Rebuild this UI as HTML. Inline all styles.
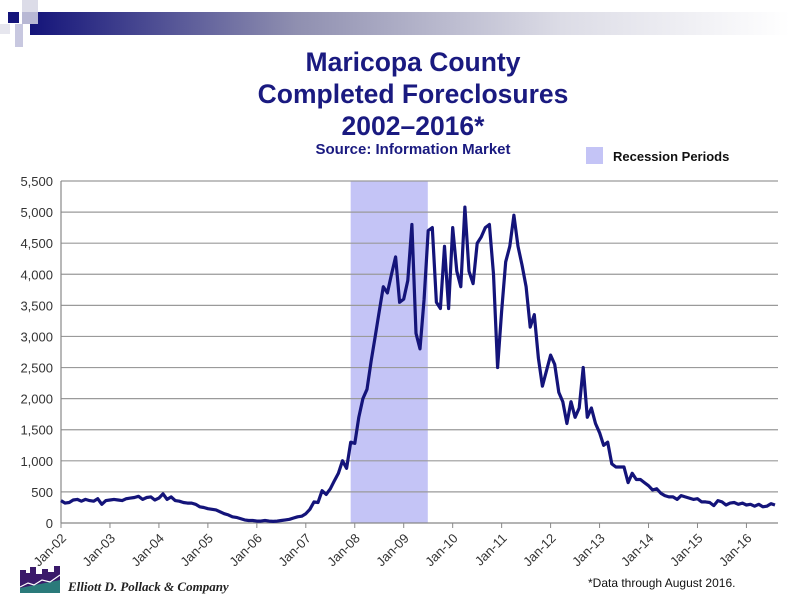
<!DOCTYPE html>
<html><head><meta charset="utf-8"><style>
body{margin:0;background:#fff;}
svg{display:block;font-family:"Liberation Sans",Arial,sans-serif;}
</style></head><body>
<svg width="800" height="600" viewBox="0 0 800 600">
<defs><linearGradient id="hg" x1="0" x2="1" y1="0" y2="0">
<stop offset="0" stop-color="#14147a"/><stop offset="0.35" stop-color="#8f8fb0"/><stop offset="0.7" stop-color="#dcdce6"/><stop offset="1" stop-color="#ffffff"/></linearGradient></defs>
<g>
<rect x="30" y="12" width="760" height="23" fill="url(#hg)"/>
<rect x="8" y="12" width="11" height="11" fill="#14147a"/>
<rect x="22" y="0" width="16" height="12" fill="#dcdce8"/>
<rect x="22" y="12" width="16" height="12" fill="#b8b8d4"/>
<rect x="15" y="24" width="8" height="23" fill="#c8c8e0"/>
<rect x="0" y="24" width="10" height="10" fill="#e6e6ee"/>
</g>
<g fill="#1a1a80" text-anchor="middle" font-weight="bold">
<text x="413" y="71" font-size="26.5">Maricopa County</text>
<text x="413" y="103" font-size="26.5">Completed Foreclosures</text>
<text x="413" y="135" font-size="26.5">2002–2016*</text>
<text x="413" y="154" font-size="15">Source: Information Market</text>
</g>
<g>
<rect x="586" y="147" width="17" height="17" fill="#c4c4f6"/>
<text x="613" y="161" font-size="13" font-weight="bold" fill="#111">Recession Periods</text>
</g>
<g id="plot"></g>
<text x="588" y="587" font-size="12" fill="#111">*Data through August 2016.</text>
<g>
<rect x="20" y="580" width="40" height="13" fill="#2a7a7a"/>
<path d="M20 584 L20 570 L26 570 L26 573 L30 573 L30 567 L36 567 L36 574 L42 574 L42 569 L48 569 L48 572 L54 572 L54 566 L60 566 L60 580 L20 588Z" fill="#3a1a6a"/>
<path d="M20 587 L28 583 L34 585 L42 580 L50 582 L60 575" stroke="#fff" stroke-width="1.2" fill="none"/>
<text x="68" y="591" font-family="'Liberation Serif',serif" font-style="italic" font-weight="bold" font-size="13" fill="#222">Elliott D. Pollack &amp; Company</text>
</g>
</svg>
<script>
const years=["Jan-02","Jan-03","Jan-04","Jan-05","Jan-06","Jan-07","Jan-08","Jan-09","Jan-10","Jan-11","Jan-12","Jan-13","Jan-14","Jan-15","Jan-16"];
const yTicks=[0,500,1000,1500,2000,2500,3000,3500,4000,4500,5000,5500];
const recessionStart=71, recessionEnd=89.9;
const values=[
360,320,330,370,380,350,380,360,350,390,300,360,
370,380,370,360,390,400,410,430,380,410,420,370,
400,470,380,420,360,350,330,320,320,300,260,250,
230,220,210,180,150,130,100,90,70,50,40,40,
30,30,40,30,25,30,40,50,60,80,100,110,
150,220,340,330,520,460,550,680,800,1000,880,1300,
1280,1700,2000,2150,2600,3000,3400,3800,3700,4000,4280,3550,
3600,3900,4800,3050,2800,3600,4700,4750,3550,3450,4450,3450,
4750,4050,3800,5080,4050,3850,4500,4600,4750,4800,4000,2500,
3400,4200,4450,4950,4450,4150,3800,3150,3350,2650,2200,2450,
2700,2550,2100,1950,1600,1950,1700,1850,2500,1700,1850,1600,
1450,1250,1300,950,900,900,900,650,800,700,700,650,
600,530,550,480,440,420,420,380,440,420,400,380,
390,340,340,330,280,360,340,290,320,330,300,320,
290,300,270,300,260,270,310,290];
const NS="http://www.w3.org/2000/svg";
const X0=61,PXM=4.08,Y0=523,PXV=342/5500,XR=778;
const xs=i=>X0+i*PXM, ys=v=>Y0-v*PXV;
const g=document.getElementById('plot');
function mk(t,a){const e=document.createElementNS(NS,t);for(const k in a)e.setAttribute(k,a[k]);g.appendChild(e);return e;}
const rr=mk('rect',{x:xs(recessionStart),y:ys(5500),width:xs(recessionEnd)-xs(recessionStart),height:ys(0)-ys(5500),fill:'#c4c4f6'});


yTicks.forEach(v=>{
 if(v>0){const l=mk('line',{x1:X0,x2:XR,y1:ys(v),y2:ys(v),stroke:'#9a9a9a','stroke-width':1.2});
 
 }
 const t=mk('text',{x:53,y:ys(v)+5,'text-anchor':'end','font-size':13,fill:'#333'});
 t.textContent=v.toLocaleString('en-US');
 
 
});
const ax=mk('line',{x1:X0,x2:XR,y1:Y0,y2:Y0,stroke:'#888','stroke-width':1.2});


const ay=mk('line',{x1:X0,x2:X0,y1:ys(5500),y2:Y0,stroke:'#888','stroke-width':1.2});


years.forEach((y,k)=>{
 const x=xs(k*12);
 mk('line',{x1:x,x2:x,y1:Y0,y2:Y0+5,stroke:'#888'});
 const ax_=x+6, ay_=Y0+16;
 const t=mk('text',{x:ax_,y:ay_,'text-anchor':'end','font-size':13,fill:'#333',transform:`rotate(-45 ${ax_} ${ay_})`});
 t.textContent=y;
 
 
});
const p=mk('polyline',{points:values.map((v,i)=>xs(i).toFixed(1)+','+ys(v).toFixed(1)).join(' '),fill:'none',stroke:'#14147a','stroke-width':3.2,'stroke-linejoin':'round'});


</script>
</body></html>
